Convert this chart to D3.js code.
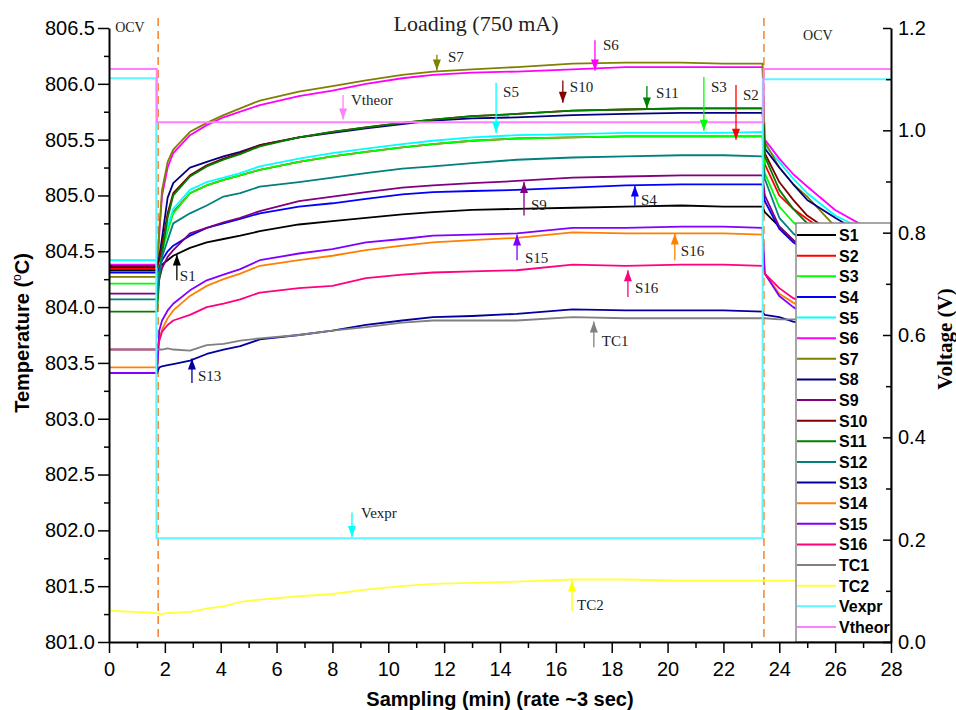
<!DOCTYPE html>
<html>
<head>
<meta charset="utf-8"/>
<title>Temperature and voltage during loading</title>
<style>
body { margin: 0; background: #fff; }
svg text { fill: #000; }
</style>
</head>
<body>
<div id="chart"></div>
<script src="https://d3js.org/d3.v7.min.js"></script>
<script>

// sampling times (min) shared by the temperature series
var time = [0, 1.72, 1.8, 1.9, 2.1, 2.3, 2.9, 3.5, 4.1, 4.7, 5.4, 6.8, 8, 9.2, 10.5, 11.6, 13, 14.6, 16.6, 18.5, 20.5, 22, 23.4, 23.48, 24, 24.5, 25, 26, 27, 28];

var S1  = [804.33, 804.33, 804.36, 804.38, 804.42, 804.46, 804.53, 804.58, 804.61, 804.64, 804.68, 804.74, 804.77, 804.80, 804.83, 804.85, 804.87, 804.88, 804.89, 804.90, 804.91, 804.90, 804.90, 804.85, 804.72, 804.60, 804.50, 804.38, 804.30, 804.25];
var S2  = [804.35, 804.35, 804.42, 804.52, 804.70, 804.85, 805.02, 805.09, 805.14, 805.18, 805.23, 805.30, 805.35, 805.39, 805.43, 805.46, 805.49, 805.51, 805.52, 805.53, 805.53, 805.53, 805.53, 805.28, 805.00, 804.88, 804.79, 804.62, 804.52, 804.45];
var S3  = [804.21, 804.21, 804.35, 804.50, 804.68, 804.84, 805.02, 805.09, 805.14, 805.18, 805.23, 805.30, 805.35, 805.39, 805.43, 805.46, 805.49, 805.51, 805.52, 805.53, 805.53, 805.53, 805.53, 805.20, 804.90, 804.76, 804.66, 804.52, 804.44, 804.38];
var S4  = [804.31, 804.31, 804.35, 804.42, 804.50, 804.55, 804.64, 804.71, 804.75, 804.79, 804.84, 804.90, 804.93, 804.97, 805.01, 805.03, 805.04, 805.05, 805.07, 805.09, 805.10, 805.10, 805.10, 804.95, 804.70, 804.58, 804.49, 804.38, 804.31, 804.26];
var S5  = [804.42, 804.42, 804.45, 804.55, 804.72, 804.88, 805.05, 805.12, 805.16, 805.20, 805.26, 805.33, 805.38, 805.42, 805.46, 805.49, 805.52, 805.54, 805.55, 805.56, 805.56, 805.56, 805.57, 805.45, 805.30, 805.15, 805.02, 804.82, 804.70, 804.60];
var S6  = [804.38, 804.38, 804.65, 805.00, 805.25, 805.38, 805.54, 805.63, 805.70, 805.75, 805.81, 805.89, 805.94, 806.00, 806.05, 806.08, 806.10, 806.11, 806.13, 806.15, 806.15, 806.15, 806.15, 805.50, 805.33, 805.19, 805.08, 804.87, 804.73, 804.64];
var S7  = [804.27, 804.27, 804.70, 805.05, 805.30, 805.41, 805.57, 805.65, 805.72, 805.78, 805.85, 805.93, 805.98, 806.03, 806.08, 806.11, 806.13, 806.15, 806.18, 806.19, 806.19, 806.18, 806.18, 805.48, 805.25, 805.10, 804.99, 804.72, 804.58, 804.48];
var S8  = [804.36, 804.36, 804.45, 804.62, 804.98, 805.11, 805.25, 805.30, 805.35, 805.39, 805.45, 805.52, 805.56, 805.60, 805.64, 805.67, 805.69, 805.70, 805.72, 805.73, 805.74, 805.74, 805.74, 805.42, 805.25, 805.10, 804.96, 804.80, 804.65, 804.56];
var S9  = [804.12, 804.12, 804.25, 804.35, 804.45, 804.51, 804.66, 804.71, 804.76, 804.80, 804.86, 804.95, 804.99, 805.03, 805.07, 805.09, 805.11, 805.13, 805.16, 805.17, 805.18, 805.18, 805.18, 805.00, 804.72, 804.60, 804.50, 804.40, 804.33, 804.28];
var S10 = [804.37, 804.37, 804.42, 804.55, 804.84, 805.02, 805.18, 805.27, 805.33, 805.38, 805.45, 805.52, 805.57, 805.61, 805.65, 805.68, 805.71, 805.73, 805.76, 805.77, 805.78, 805.78, 805.78, 805.38, 805.12, 804.96, 804.82, 804.65, 804.55, 804.48];
var S11 = [803.96, 803.96, 804.25, 804.48, 804.80, 805.00, 805.17, 805.26, 805.32, 805.37, 805.44, 805.52, 805.57, 805.61, 805.65, 805.68, 805.71, 805.73, 805.76, 805.77, 805.78, 805.78, 805.78, 805.35, 805.05, 804.88, 804.75, 804.60, 804.50, 804.44];
var S12 = [804.07, 804.07, 804.30, 804.45, 804.60, 804.75, 804.84, 804.91, 804.99, 805.02, 805.08, 805.12, 805.16, 805.20, 805.24, 805.26, 805.29, 805.32, 805.34, 805.35, 805.36, 805.36, 805.35, 805.15, 804.80, 804.66, 804.57, 804.45, 804.38, 804.33];
var S13 = [803.41, 803.41, 803.46, 803.47, 803.48, 803.49, 803.52, 803.58, 803.62, 803.65, 803.71, 803.75, 803.79, 803.84, 803.88, 803.91, 803.92, 803.94, 803.98, 803.97, 803.97, 803.97, 803.96, 803.93, 803.91, 803.87, 803.85, 803.82, 803.80, 803.78];
var S14 = [803.46, 803.46, 803.70, 803.80, 803.90, 803.97, 804.10, 804.19, 804.25, 804.30, 804.37, 804.42, 804.46, 804.51, 804.55, 804.58, 804.60, 804.62, 804.67, 804.66, 804.66, 804.66, 804.65, 804.30, 804.12, 804.04, 803.97, 803.89, 803.84, 803.80];
var S15 = [803.41, 803.41, 803.79, 803.88, 803.97, 804.03, 804.15, 804.24, 804.29, 804.34, 804.42, 804.48, 804.52, 804.58, 804.61, 804.64, 804.65, 804.66, 804.71, 804.71, 804.72, 804.72, 804.71, 804.30, 804.10, 804.00, 803.93, 803.85, 803.80, 803.76];
var S16 = [803.62, 803.62, 803.70, 803.78, 803.84, 803.88, 803.93, 804.00, 804.03, 804.07, 804.13, 804.17, 804.19, 804.26, 804.29, 804.31, 804.32, 804.33, 804.38, 804.37, 804.38, 804.38, 804.37, 804.30, 804.17, 804.08, 804.02, 803.94, 803.89, 803.85];
var TC1 = [803.62, 803.62, 803.62, 803.62, 803.63, 803.62, 803.61, 803.66, 803.67, 803.70, 803.72, 803.75, 803.79, 803.82, 803.86, 803.88, 803.88, 803.88, 803.91, 803.90, 803.90, 803.90, 803.90, 803.90, 803.89, 803.89, 803.89, 803.88, 803.88, 803.88];
var TC2 = [801.28, 801.26, 801.25, 801.25, 801.26, 801.26, 801.27, 801.30, 801.32, 801.36, 801.38, 801.41, 801.43, 801.47, 801.50, 801.52, 801.53, 801.54, 801.56, 801.56, 801.55, 801.55, 801.55, 801.55, 801.55, 801.55, 801.55, 801.55, 801.55, 801.55];

// voltages (right axis)
var vexprTime  = [0, 1.69, 1.70, 23.40, 23.41, 28];
var Vexpr      = [1.102, 1.102, 0.203, 0.203, 1.100, 1.100];
var vtheorTime = [0, 1.71, 1.72, 23.43, 23.44, 28];
var Vtheor     = [1.12, 1.12, 1.016, 1.016, 1.12, 1.12];

// loading start / end (min)
var loadMarks = [1.76, 23.45];

var tempSeries = [
  {name: "S1", v: S1, c: "#000000"},  {name: "S2", v: S2, c: "#ff0000"},
  {name: "S3", v: S3, c: "#00ff00"},  {name: "S4", v: S4, c: "#0000ff"},
  {name: "S5", v: S5, c: "#00ffff"},  {name: "S6", v: S6, c: "#ff00ff"},
  {name: "S7", v: S7, c: "#808000"},  {name: "S8", v: S8, c: "#000080"},
  {name: "S9", v: S9, c: "#800080"},  {name: "S10", v: S10, c: "#800000"},
  {name: "S11", v: S11, c: "#008000"}, {name: "S12", v: S12, c: "#008080"},
  {name: "S13", v: S13, c: "#0000a0"}, {name: "S14", v: S14, c: "#ff8000"},
  {name: "S15", v: S15, c: "#8000ff"}, {name: "S16", v: S16, c: "#ff0080"},
  {name: "TC1", v: TC1, c: "#808080"}, {name: "TC2", v: TC2, c: "#ffff40"}
];
var voltSeries = [
  {name: "Vexpr", t: vexprTime, v: Vexpr, c: "#5ff5ff"},
  {name: "Vtheor", t: vtheorTime, v: Vtheor, c: "#ff80ff"}
];

// arrow notes: t, head and tail temperature, label offset from the tail (px)
var notes = [
  {label: "S7", t: 11.74, head: 806.12, tail: 806.26, dx: 11, dy: 7, c: "#808000"},
  {label: "S6", t: 17.40, head: 806.12, tail: 806.39, dx: 8, dy: 10, c: "#ff00ff"},
  {label: "S5", t: 13.86, head: 805.56, tail: 806.01, dx: 7, dy: 14, c: "#00ffff"},
  {label: "S10", t: 16.25, head: 805.83, tail: 806.03, dx: 7, dy: 12, c: "#800000"},
  {label: "S11", t: 19.26, head: 805.78, tail: 805.98, dx: 9, dy: 12, c: "#008000"},
  {label: "S3", t: 21.30, head: 805.58, tail: 806.06, dx: 7, dy: 15, c: "#00ff00"},
  {label: "S2", t: 22.45, head: 805.50, tail: 805.99, dx: 7, dy: 15, c: "#ff0000"},
  {label: "Vtheor", t: 8.38, head: 805.68, tail: 805.90, dx: 8, dy: 10, c: "#ff80ff"},
  {label: "S9", t: 14.86, head: 805.12, tail: 804.82, dx: 7, dy: -6, c: "#800080"},
  {label: "S4", t: 18.83, head: 805.09, tail: 804.91, dx: 6, dy: -1, c: "#0000ff"},
  {label: "S1", t: 2.43, head: 804.47, tail: 804.24, dx: 3, dy: 1, c: "#000000"},
  {label: "S15", t: 14.61, head: 804.65, tail: 804.42, dx: 8, dy: 3, c: "#8000ff"},
  {label: "S16", t: 20.26, head: 804.66, tail: 804.42, dx: 6, dy: -4, c: "#ff8000"},
  {label: "S16", t: 18.58, head: 804.33, tail: 804.09, dx: 7, dy: -4, c: "#ff0080"},
  {label: "TC1", t: 17.36, head: 803.87, tail: 803.64, dx: 8, dy: -1, c: "#808080"},
  {label: "S13", t: 2.97, head: 803.54, tail: 803.32, dx: 6, dy: -2, c: "#0000a0"},
  {label: "Vexpr", t: 8.70, head: 801.94, tail: 802.16, dx: 9, dy: 5, c: "#00ffff"},
  {label: "TC2", t: 16.58, head: 801.55, tail: 801.28, dx: 5, dy: -1, c: "#ffff00"}
];

var width = 956, height = 710;
var padL = 109, padR = 891, padT = 28, padB = 642;
var sans = "'Liberation Sans', Arial, sans-serif";
var serif = "'Liberation Serif', 'Times New Roman', serif";

var x = d3.scaleLinear().domain([0, 28]).range([padL, padR]);
var yT = d3.scaleLinear().domain([801, 806.5]).range([padB, padT]);
var yV = d3.scaleLinear().domain([0, 1.2]).range([padB, padT]);

var svg = d3.select("#chart").append("svg")
  .attr("width", width).attr("height", height)
  .style("font-family", sans);

svg.append("clipPath").attr("id", "plot")
  .append("rect").attr("x", padL).attr("y", padT - 12)
  .attr("width", padR - padL).attr("height", padB - padT + 12);

var plot = svg.append("g").attr("clip-path", "url(#plot)");

// dashed markers for start and end of loading
plot.selectAll(".mark").data(loadMarks).enter().append("line")
  .attr("x1", d => x(d)).attr("x2", d => x(d))
  .attr("y1", yT(806.59)).attr("y2", yT(801.04))
  .attr("stroke", "#f5822a").attr("stroke-width", 1.5)
  .attr("stroke-dasharray", "8,5");

var lineT = d3.line().x((d, i) => x(time[i])).y(d => yT(d));
plot.selectAll(".temp").data(tempSeries).enter().append("path")
  .attr("d", d => lineT(d.v))
  .attr("fill", "none").attr("stroke", d => d.c).attr("stroke-width", 1.8)
  .attr("stroke-linejoin", "round");

plot.selectAll(".volt").data(voltSeries).enter().append("path")
  .attr("d", s => d3.line().x((d, i) => x(s.t[i])).y(d => yV(d))(s.v))
  .attr("fill", "none").attr("stroke", d => d.c).attr("stroke-width", 2);

// arrows with labels
var note = svg.selectAll(".note").data(notes).enter().append("g");
note.append("line")
  .attr("x1", d => x(d.t)).attr("x2", d => x(d.t))
  .attr("y1", d => yT(d.tail)).attr("y2", d => yT(d.head))
  .attr("stroke", d => d.c).attr("stroke-width", 1.3);
note.append("path")
  .attr("d", function(d) {
    var hx = x(d.t), hy = yT(d.head);
    var dir = d.head < d.tail ? -1 : 1; // -1 : arrow points down
    return "M" + hx + "," + hy + "L" + (hx - 4) + "," + (hy + dir * 11) +
           "L" + (hx + 4) + "," + (hy + dir * 11) + "Z";
  })
  .attr("fill", d => d.c);
note.append("text")
  .attr("x", d => x(d.t) + d.dx).attr("y", d => yT(d.tail) + d.dy)
  .style("font-family", serif).style("font-size", "15px")
  .style("fill", "#222")
  .text(d => d.label);

// region labels
svg.append("text").attr("x", x(0.22)).attr("y", 32)
  .style("font-family", serif).style("font-size", "14px").style("fill", "#222").text("OCV");
svg.append("text").attr("x", x(24.85)).attr("y", 40)
  .style("font-family", serif).style("font-size", "14px").style("fill", "#222").text("OCV");
svg.append("text").attr("x", x((loadMarks[0] + loadMarks[1]) / 2) + 15).attr("y", 31)
  .attr("text-anchor", "middle")
  .style("font-family", serif).style("font-size", "22px").style("fill", "#222")
  .text("Loading (750 mA)");

// legend
var legX = 796, legY = 223;
var legendItems = tempSeries.concat(voltSeries);
svg.append("rect").attr("x", legX).attr("y", legY)
  .attr("width", padR - legX).attr("height", padB - legY)
  .attr("fill", "#fff").attr("stroke", "#8a8a8a").attr("stroke-width", 1.5);
var leg = svg.selectAll(".leg").data(legendItems).enter().append("g")
  .attr("transform", (d, i) => "translate(" + legX + "," + (legY + 12 + i * 20.63) + ")");
leg.append("line").attr("x1", 1).attr("x2", 40)
  .attr("stroke", d => d.c).attr("stroke-width", 2);
leg.append("text").attr("x", 43).attr("y", 6)
  .style("font-size", "16px").style("font-weight", "bold").text(d => d.name);

// axes
function styleAxis(g) {
  g.select(".domain").attr("stroke-width", 2);
  g.selectAll(".tick line").attr("stroke-width", 1.5);
  g.selectAll("text").style("font-family", sans).style("font-size", "20px");
}

svg.append("g").attr("transform", "translate(" + padL + ",0)")
  .call(d3.axisLeft(yT).tickValues(d3.range(801.25, 806.5, 0.5)).tickSize(5).tickFormat(""))
  .call(g => g.select(".domain").remove())
  .selectAll("line").attr("stroke-width", 1.5);
svg.append("g").attr("transform", "translate(" + padL + ",0)")
  .call(d3.axisLeft(yT).tickValues(d3.range(801, 806.51, 0.5)).tickSize(11).tickSizeOuter(0)
    .tickFormat(d3.format(".1f")))
  .call(styleAxis)
  .call(g => g.selectAll("text").attr("x", -14));

svg.append("g").attr("transform", "translate(0," + padB + ")")
  .call(d3.axisBottom(x).tickValues(d3.range(1, 28, 2)).tickSize(6).tickFormat(""))
  .call(g => g.select(".domain").remove())
  .selectAll("line").attr("stroke-width", 1.5);
svg.append("g").attr("transform", "translate(0," + padB + ")")
  .call(d3.axisBottom(x).tickValues(d3.range(0, 29, 2)).tickSize(11).tickSizeOuter(0))
  .call(styleAxis)
  .call(g => g.selectAll("text").attr("y", 20));

// right axis: ticks point inward
svg.append("g").attr("transform", "translate(" + padR + ",0)")
  .call(d3.axisRight(yV).tickValues(d3.range(0.1, 1.2, 0.2)).tickSize(5).tickFormat(""))
  .call(g => g.select(".domain").remove())
  .call(g => g.selectAll("line").attr("x2", -5).attr("stroke-width", 1.5));
svg.append("g").attr("transform", "translate(" + padR + ",0)")
  .call(d3.axisRight(yV).tickValues(d3.range(0, 1.21, 0.2)).tickSize(8).tickSizeOuter(0)
    .tickFormat(d3.format(".1f")))
  .call(styleAxis)
  .call(g => g.selectAll(".tick line").attr("x2", -8))
  .call(g => g.selectAll("text").attr("x", 7));

// axis titles
var ty = svg.append("text")
  .attr("transform", "translate(29," + ((padT + padB) / 2 - 2) + ") rotate(-90)")
  .attr("text-anchor", "middle")
  .style("font-size", "20px").style("font-weight", "bold");
ty.append("tspan").text("Temperature (");
ty.append("tspan").attr("dy", -8).style("font-size", "12px").style("font-weight", "normal").text("o");
ty.append("tspan").attr("dy", 8).text("C)");

svg.append("text")
  .attr("transform", "translate(952," + ((padT + padB) / 2 + 4) + ") rotate(-90)")
  .attr("text-anchor", "middle")
  .style("font-family", serif).style("font-size", "21px").style("font-weight", "bold")
  .text("Voltage (V)");

svg.append("text").attr("x", (padL + padR) / 2).attr("y", 706)
  .attr("text-anchor", "middle")
  .style("font-size", "20px").style("font-weight", "bold")
  .text("Sampling (min) (rate ~3 sec)");

</script>
</body>
</html>
